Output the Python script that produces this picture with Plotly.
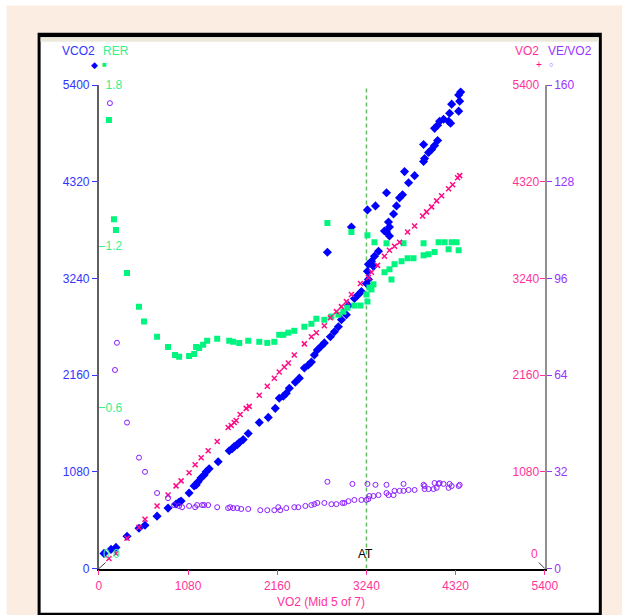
import plotly.graph_objects as go

# ---------------- data ----------------
x_ticks = [0, 1080, 2160, 3240, 4320, 5400]
vco2_ticks = [0, 1080, 2160, 3240, 4320, 5400]
rer_ticks = [0.6, 1.2, 1.8]
rer_ticktext = ["0.6", "1.2", "1.8"]
vo2_ticks = [1080, 2160, 3240, 4320, 5400]
vevo2_ticks = [0, 32, 64, 96, 128, 160]
at_value = 3240

vco2_x = [61, 146, 206, 340, 485, 558, 704, 837, 934, 971,
          995, 1092, 1153, 1177, 1201, 1238, 1274, 1298, 1335, 1444,
          1578, 1614, 1638, 1675, 1699, 1747, 1808, 1942, 2051, 2136,
          2184, 2233, 2269, 2306, 2378, 2427, 2488, 2536, 2573, 2609,
          2645, 2694, 2730, 2767, 2803, 2852, 2900, 2937, 2997, 3022,
          3058, 3094, 3131, 3179, 3240, 3252, 3264, 3264, 3301, 3325,
          3337, 3386, 3252, 3349, 3458, 3483, 3507, 3519, 3519, 3568,
          3483, 3604, 3641, 3677, 3701, 3750, 3823, 3932, 3944, 3932,
          3992, 4029, 4065, 4102, 4065, 4102, 4126, 4174, 4235, 4259,
          4247, 4272, 4357, 4369, 4357, 4381]
vco2_y = [169, 214, 236, 360, 450, 484, 585, 675, 720, 743,
          754, 844, 923, 934, 968, 1013, 1046, 1080, 1114, 1193,
          1316, 1339, 1361, 1384, 1406, 1440, 1508, 1631, 1688, 1789,
          1901, 1924, 1958, 2014, 2081, 2126, 2239, 2273, 2306, 2385,
          2441, 2486, 2520, 3533, 2588, 2644, 2700, 2779, 2835, 2936,
          3814, 3015, 3049, 3094, 3184, 3319, 3229, 3398, 3431, 3375,
          3488, 3544, 4005, 4050, 3769, 3758, 3870, 3814, 3713, 3960,
          4196, 4050, 4140, 4174, 4433, 4309, 4388, 4545, 4579, 4736,
          4646, 4680, 4725, 4781, 4916, 4950, 4995, 5018, 4995, 4973,
          5085, 5186, 5108, 5220, 5288, 5321]

rer_x = [121, 182, 206, 340, 485, 546, 704, 837, 922, 971,
         1092, 1153, 1177, 1214, 1262, 1311, 1432, 1578, 1626, 1699,
         1808, 1942, 2039, 2124, 2184, 2233, 2294, 2366, 2488, 2573,
         2633, 2730, 2767, 2815, 2900, 2961, 3009, 3058, 3094, 3167,
         3240, 3252, 3252, 3276, 3301, 3325, 3337, 3458, 3483, 3519,
         3543, 3580, 3665, 3689, 3738, 3810, 3932, 3932, 3992, 4065,
         4114, 4187, 4235, 4272, 4332, 4357]
rer_y = [1.67, 1.30, 1.26, 1.10, 0.975, 0.92, 0.863, 0.825, 0.795, 0.788,
         0.791, 0.799, 0.825, 0.821, 0.833, 0.848, 0.855, 0.848, 0.844, 0.84,
         0.848, 0.844, 0.84, 0.844, 0.87, 0.87, 0.878, 0.885, 0.90, 0.911,
         0.93, 0.926, 1.286, 0.938, 0.945, 0.956, 0.971, 1.253, 0.979, 0.979,
         1.02, 1.241, 0.994, 1.046, 1.039, 1.058, 1.215, 1.103, 1.211, 1.114,
         1.076, 1.133, 1.144, 1.211, 1.155, 1.155, 1.166, 1.211, 1.17, 1.178,
         1.215, 1.215, 1.189, 1.215, 1.215, 1.185]

vo2_x = [121, 206, 340, 485, 558, 704, 837, 934, 995, 1092,
         1165, 1238, 1323, 1432, 1565, 1602, 1638, 1662, 1711, 1784,
         1820, 1942, 2039, 2124, 2184, 2245, 2294, 2366, 2488, 2573,
         2633, 2730, 2803, 2876, 2937, 2997, 3058, 3167, 3264, 3301,
         3374, 3458, 3519, 3580, 3641, 3738, 3823, 3920, 3968, 4029,
         4090, 4150, 4235, 4284, 4344, 4369]
vo2_y = [113, 169, 338, 461, 551, 698, 821, 923, 979, 1069,
         1159, 1238, 1316, 1418, 1575, 1598, 1631, 1654, 1721, 1789,
         1811, 1935, 2036, 2126, 2194, 2250, 2295, 2385, 2509, 2588,
         2633, 2711, 2801, 2869, 2925, 2981, 3060, 3184, 3251, 3308,
         3386, 3488, 3555, 3600, 3645, 3758, 3825, 3938, 3983, 4039,
         4106, 4163, 4241, 4286, 4365, 4388]

vevo2_x = [133, 194, 218, 340, 485, 558, 704, 837, 910, 971,
           1007, 1092, 1165, 1189, 1250, 1274, 1323, 1432, 1565, 1590,
           1626, 1675, 1723, 1808, 1954, 2039, 2124, 2172, 2196, 2269,
           2366, 2415, 2500, 2573, 2609, 2645, 2730, 2767, 2815, 2876,
           2949, 2973, 3022, 3070, 3094, 3179, 3240, 3252, 3264, 3276,
           3325, 3349, 3386, 3483, 3483, 3507, 3568, 3580, 3641, 3689,
           3689, 3750, 3823, 3932, 3944, 3944, 3992, 4053, 4065, 4090,
           4114, 4126, 4174, 4235, 4247, 4272, 4357, 4369]
vevo2_y = [154, 65.7, 74.7, 48.3, 36.7, 32.0, 25.0, 23.3, 21.0, 20.7,
           20.3, 20.7, 20.3, 21.0, 21.0, 21.0, 21.0, 20.3, 20.0, 20.3,
           20.0, 20.0, 19.7, 19.7, 19.3, 19.3, 19.3, 20.3, 19.3, 20.0,
           20.3, 20.3, 20.7, 21.0, 21.3, 21.7, 21.7, 28.7, 21.3, 21.3,
           21.7, 21.7, 22.3, 28.0, 22.7, 22.7, 22.7, 28.0, 23.0, 24.0,
           24.0, 27.7, 24.3, 27.7, 25.0, 24.3, 24.3, 25.7, 25.7, 28.0,
           25.7, 26.0, 26.0, 27.7, 26.3, 27.3, 26.3, 26.3, 28.3, 26.7,
           28.0, 28.3, 28.0, 26.7, 28.0, 27.3, 27.3, 27.7]

# ---------------- layout geometry ----------------
# Page is rendered with body margin 0; the photographed picture showed a slight
# (~2.7%) shrink, so target picture positions q are mapped back to page pixels.
W, H = 638, 631
SX, BX = 0.973, 2.4
SY, BY = 0.9727, 8.4
BLUE_T, GREEN_T, PINK_T, PURPLE_T = "#3333ff", "#38f090", "#ff3399", "#9933ff"
BLUE_D, GREEN_D, PINK_D, PURPLE_D = "#0000ff", "#00f57f", "#ff0a84", "#8a1cff"
PEACH = "#fcede3"
FONT = "Liberation Sans, Arial, sans-serif"


def fx(q):
    return ((q - BX) / SX) / W


def fy(q):
    return 1 - ((q - BY) / SY) / H


X_DOM = [fx(98.3), fx(544)]
Y_DOM = [fy(567), fy(86)]

fig = go.Figure()

fig.add_trace(go.Scatter(x=vo2_x, y=vo2_y, mode="markers", yaxis="y3",
                         marker=dict(symbol="x-thin", size=5, color=PINK_D,
                                     line=dict(width=1.5, color=PINK_D))))
fig.add_trace(go.Scatter(x=vevo2_x, y=vevo2_y, mode="markers", yaxis="y4",
                         marker=dict(symbol="circle-open", size=5, color=PURPLE_D,
                                     line=dict(width=1, color=PURPLE_D))))
fig.add_trace(go.Scatter(x=rer_x, y=rer_y, mode="markers", yaxis="y2",
                         marker=dict(symbol="square", size=6, color=GREEN_D,
                                     line=dict(width=0))))
fig.add_trace(go.Scatter(x=vco2_x, y=vco2_y, mode="markers", yaxis="y",
                         marker=dict(symbol="diamond", size=7, color=BLUE_D,
                                     line=dict(width=0))))

common = dict(showgrid=False, zeroline=False, fixedrange=True)

fig.update_layout(
    width=W, height=H, autosize=False,
    margin=dict(l=0, r=0, t=0, b=0, pad=0),
    paper_bgcolor="white", plot_bgcolor="rgba(0,0,0,0)",
    showlegend=False,
    font=dict(family=FONT, size=12),
    xaxis=dict(domain=X_DOM, range=[0, 5400], tickvals=x_ticks,
               ticks="outside", ticklen=5, tickcolor=PINK_T,
               tickfont=dict(color=PINK_T, size=12),
               showline=True, linecolor="black", linewidth=1.5, **common),
    yaxis=dict(domain=Y_DOM, range=[0, 5400], tickvals=vco2_ticks,
               ticks="outside", ticklen=5, tickcolor=BLUE_T,
               tickfont=dict(color=BLUE_T, size=12),
               showline=True, linecolor="#606060", linewidth=2, **common),
    yaxis2=dict(overlaying="y", side="left", anchor="x", range=[0, 1.8],
                tickvals=rer_ticks, ticktext=rer_ticktext,
                ticks="inside", ticklen=6, tickcolor=GREEN_T,
                ticklabelposition="inside", ticklabeloverflow="allow",
                tickfont=dict(color=GREEN_T, size=12),
                showline=False, **common),
    yaxis3=dict(overlaying="y", side="right", anchor="x", range=[0, 5400],
                tickvals=vo2_ticks, ticks="inside", ticklen=5, tickcolor=PINK_T,
                ticklabelposition="inside", ticklabeloverflow="allow",
                tickfont=dict(color=PINK_T, size=12),
                showline=False, **common),
    yaxis4=dict(overlaying="y", side="right", anchor="x", range=[0, 160],
                tickvals=vevo2_ticks, ticks="outside", ticklen=5, tickcolor=PURPLE_T,
                tickfont=dict(color=PURPLE_T, size=12),
                showline=True, linecolor="#909090", linewidth=2, **common),
)

shapes = [
    dict(type="rect", xref="paper", yref="paper", x0=fx(6), x1=fx(640), y0=fy(640), y1=fy(7),
         fillcolor=PEACH, line=dict(width=0), layer="below"),
    dict(type="rect", xref="paper", yref="paper", x0=fx(37), x1=fx(601), y0=fy(615), y1=fy(34),
         fillcolor="black", line=dict(width=0), layer="below"),
    dict(type="rect", xref="paper", yref="paper", x0=fx(40), x1=fx(598), y0=fy(611), y1=fy(38.5),
         fillcolor="white", line=dict(width=0), layer="below"),
    dict(type="rect", xref="paper", yref="paper", x0=fx(40), x1=fx(598), y0=fy(43), y1=fy(38.5),
         fillcolor="#ebe8dc", line=dict(width=0), layer="below"),
    dict(type="line", xref="x", yref="y", x0=at_value, x1=at_value, y0=0, y1=5380,
         line=dict(color="#66bb66", width=1.5, dash="4px,3px"), layer="below"),
    dict(type="line", xref="paper", yref="paper", x0=fx(98.3), y0=fy(567), x1=fx(105), y1=fy(561),
         line=dict(color="#404040", width=1)),
    dict(type="line", xref="paper", yref="paper", x0=fx(538), y0=fy(561), x1=fx(544), y1=fy(567),
         line=dict(color="#404040", width=1)),
]
fig.update_layout(shapes=shapes)


def ann(text, px, py, color, size=12):
    return dict(text=text, x=fx(px), y=fy(py), xref="paper", yref="paper",
                xanchor="center", yanchor="middle", showarrow=False,
                font=dict(color=color, size=size, family=FONT))


annotations = [
    ann("VCO2", 77.5, 52, BLUE_T),
    ann("RER", 115, 52, GREEN_T),
    ann("◆", 94, 66, BLUE_D, 9),
    ann("■", 104, 66, GREEN_D, 8),
    ann("VO2", 526.5, 52, PINK_T),
    ann("VE/VO2", 569.5, 52, PURPLE_T),
    ann("+", 538, 66, PINK_D, 10),
    ann("○", 550, 66, PURPLE_D, 7),
    ann("0.0", 111, 553, GREEN_T),
    ann("0", 534, 553, PINK_T),
    ann("VO2 (Mid 5 of 7)", 320.5, 600, PINK_T),
    ann("AT", 364.5, 553, "black"),
]
fig.update_layout(annotations=annotations)

fig.write_html("out.html", config={"displayModeBar": False},
               post_script="document.body.style.margin='0';document.documentElement.style.overflow='hidden';document.body.style.overflow='hidden';")
